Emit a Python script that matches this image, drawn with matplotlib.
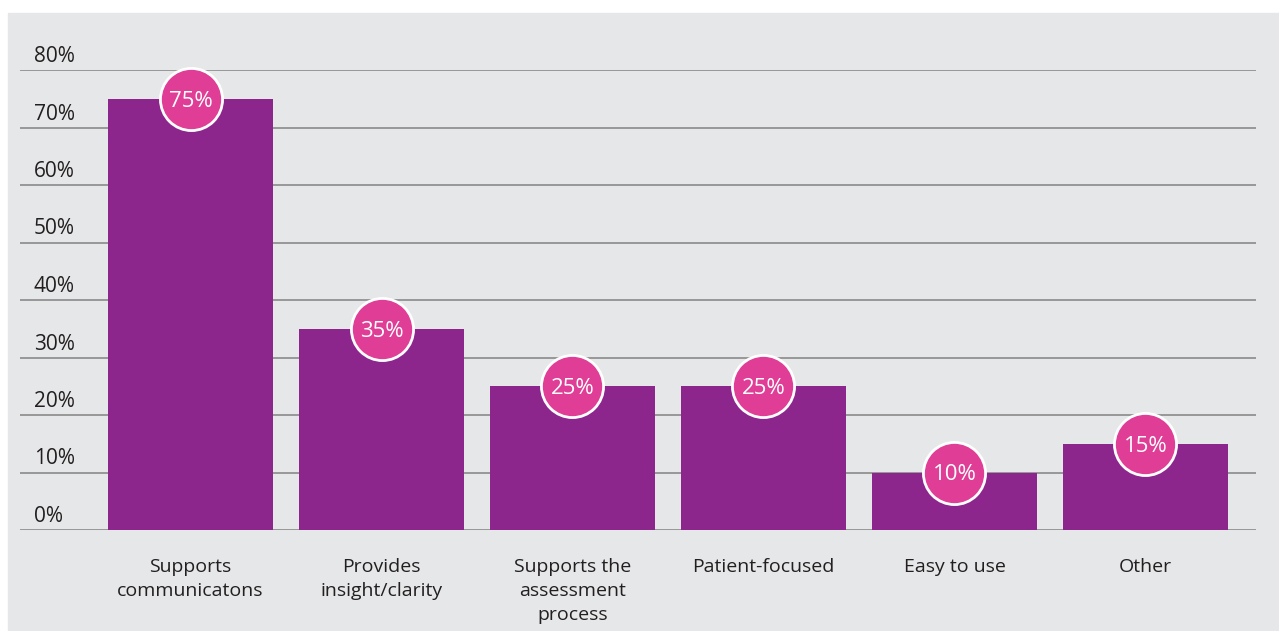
import matplotlib.pyplot as plt
from matplotlib.patches import Rectangle

plt.rcParams['font.family'] = ['Open Sans', 'DejaVu Sans']

categories = ["Supports\ncommunicatons", "Provides\ninsight/clarity",
              "Supports the\nassessment\nprocess", "Patient-focused",
              "Easy to use", "Other"]
values = [75, 35, 25, 25, 10, 15]
yticks = [0, 10, 20, 30, 40, 50, 60, 70, 80]

W, H = 1279, 631
fig = plt.figure(figsize=(W / 100, H / 100), dpi=100)

# grey panel behind the chart
fig.patches.append(Rectangle((8 / W, 0), 1 - 8 / W, (H - 13) / H,
                             transform=fig.transFigure, color='#e6e7e8', zorder=-5))

ax = fig.add_axes([20 / W, (H - 530) / H, (1256 - 20) / W, (530 - 70) / H])
ax.set_facecolor('none')
for s in ax.spines.values():
    s.set_visible(False)

x = list(range(len(categories)))
ax.bar(x, values, width=0.864, color='#8c268c', zorder=2)

for v in yticks:
    ax.axhline(v, color='#8a8a8a', lw=1.2, zorder=1)
    ax.annotate(f"{v}%", xy=(14 / 1236, v), xycoords=ax.get_yaxis_transform(),
                xytext=(0, 8), textcoords='offset pixels', ha='left', va='baseline',
                fontsize=15, color='#231f20')

ax.scatter(x, values, s=2000, color='#e03d96', edgecolors='white', linewidths=2,
           zorder=3, clip_on=False)
for xi, v in zip(x, values):
    ax.text(xi, v, f"{v}%", ha='center', va='center_baseline', color='white',
            fontsize=16, zorder=4)

ax.set_xlim(-0.893, 5.579)
ax.set_ylim(0, 80)
ax.set_yticks([])
ax.set_xticks(x)
ax.set_xticklabels(categories, fontsize=14, color='#231f20', linespacing=1.45)
ax.tick_params(axis='x', length=0, pad=20)

fig.savefig('out.png', dpi=100)
